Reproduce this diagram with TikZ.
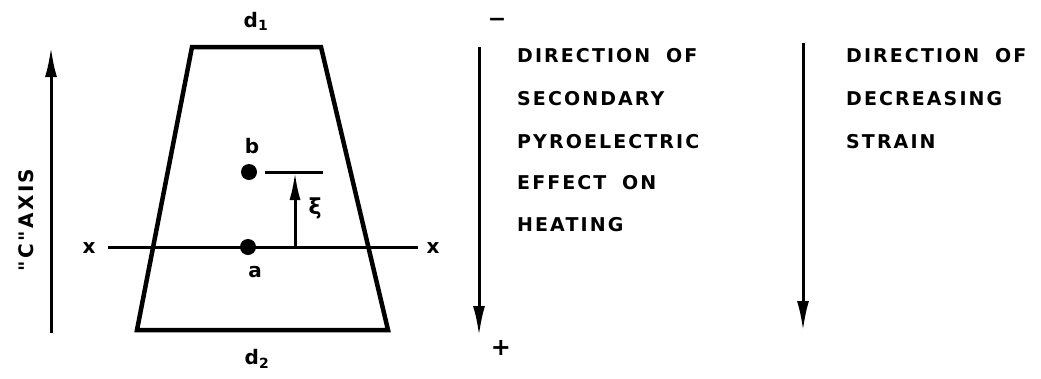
\documentclass[tikz,border=0pt]{standalone}
\usepackage{fontspec}
\setmainfont{DejaVu Sans}
\newfontfamily\lett[LetterSpace=11,WordSpace=1.8]{DejaVu Sans Bold}
\usetikzlibrary{arrows.meta}
\begin{document}
\begin{tikzpicture}[x=1pt,y=-1pt,
  lbl/.style={font=\lett\fontsize{19}{19}\selectfont,inner sep=0pt,anchor=base west},
  sm/.style={font=\bfseries\fontsize{20}{20}\selectfont,inner sep=0pt},
  ln/.style={line width=3pt},
  longarrow/.style={ln,-{Latex[length=30pt,width=12pt]}},
  dot/.style={circle,fill=black,inner sep=0pt,minimum size=16pt}]
\useasboundingbox (0,0) rectangle (1041,378);
% trapezoid
\coordinate (tl) at (192,47);
\coordinate (tr) at (321,47);
\coordinate (br) at (388,330);
\coordinate (bl) at (137,330);
\draw[line width=4.5pt,line join=miter] (tl) -- (tr) -- (br) -- (bl) -- cycle;
\node[sm] (d1) at (256,21) {d\textsubscript{1}};
\node[sm] (d2) at (257,359) {d\textsubscript{2}};
% c axis
\coordinate (cb) at (51,333);
\coordinate (ct) at (51,47);
\draw[longarrow] (cb) -- (ct);
\node[font=\lett\fontsize{20}{20}\selectfont,rotate=90,inner sep=0pt] (cax) at (26,220) {"C"\,AXIS};
% x line
\node[sm] (xl) at (89,248) {x};
\node[sm] (xr) at (433,248) {x};
\coordinate (xa) at (108,247);
\coordinate (xb) at (418,247);
\draw[ln] (xa) -- (xb);
\node[dot] (a) at (248,247) {};
\node[dot] (b) at (249,172) {};
\node[sm] (al) at (255,272) {a};
\node[sm] (bl2) at (252,146) {b};
\coordinate (bar1) at (265,172);
\coordinate (bar2) at (323,172);
\draw[ln] (bar1) -- (bar2);
\coordinate (xi0) at (295,247);
\coordinate (xi1) at (295,172);
\draw[ln,-{Latex[length=28pt,width=11pt]}] (xi0) -- (xi1);
\node[font=\bfseries\fontsize{22}{22}\selectfont,inner sep=0pt] (xi) at (315,208) {ξ};
% right arrows
\coordinate (p1) at (479,47);
\coordinate (p2) at (479,336);
\draw[longarrow] (p1) -- (p2);
\node[font=\bfseries\fontsize{22}{22}\selectfont,inner sep=0pt] (minus) at (497,22) {−};
\node[font=\bfseries\fontsize{24}{24}\selectfont,inner sep=0pt] (plus) at (501,348) {+};
\node[lbl] (t1) at (517,62) {DIRECTION OF};
\node[lbl] (t2) at (517,105) {SECONDARY};
\node[lbl] (t3) at (517,148) {PYROELECTRIC};
\node[lbl] (t4) at (517,189) {EFFECT ON};
\node[lbl] (t5) at (517,231) {HEATING};
\coordinate (q1) at (803,43);
\coordinate (q2) at (803,331);
\draw[longarrow] (q1) -- (q2);
\node[lbl] (s1) at (846,62) {DIRECTION OF};
\node[lbl] (s2) at (846,105) {DECREASING};
\node[lbl] (s3) at (846,148) {STRAIN};
\end{tikzpicture}
\end{document}
